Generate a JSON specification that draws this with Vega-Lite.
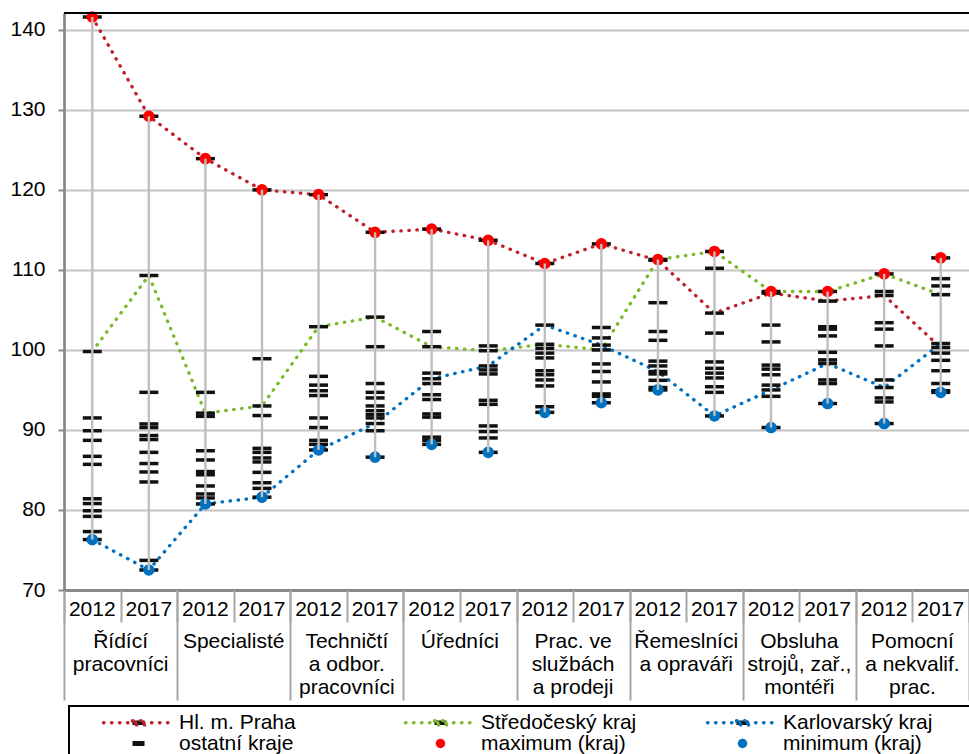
{
  "$schema": "https://vega.github.io/schema/vega-lite/v6.json",
  "width": 905,
  "height": 577,
  "autosize": "none",
  "padding": {"left": 64, "top": 13, "right": 0, "bottom": 164},
  "background": "white",
  "config": {
    "font": "Liberation Sans",
    "view": {"stroke": null},
    "axis": {"labelFont": "Liberation Sans", "labelColor": "#000", "title": null},
    "legend": {"labelFont": "Liberation Sans", "labelColor": "#000"}
  },
  "data": {"values": [
    {"p":1,"r":"Hl. m. Praha","v":141.6},{"p":1,"r":"Středočeský kraj","v":99.8},{"p":1,"r":"Karlovarský kraj","v":76.3},
    {"p":1,"r":"ostatní kraje","v":91.5},{"p":1,"r":"ostatní kraje","v":89.9},{"p":1,"r":"ostatní kraje","v":88.7},{"p":1,"r":"ostatní kraje","v":86.7},{"p":1,"r":"ostatní kraje","v":85.7},{"p":1,"r":"ostatní kraje","v":81.4},{"p":1,"r":"ostatní kraje","v":80.8},{"p":1,"r":"ostatní kraje","v":79.9},{"p":1,"r":"ostatní kraje","v":79.2},{"p":1,"r":"ostatní kraje","v":77.3},
    {"p":2,"r":"Hl. m. Praha","v":129.2},{"p":2,"r":"Středočeský kraj","v":109.3},{"p":2,"r":"Karlovarský kraj","v":72.5},
    {"p":2,"r":"ostatní kraje","v":94.7},{"p":2,"r":"ostatní kraje","v":90.75},{"p":2,"r":"ostatní kraje","v":90.3},{"p":2,"r":"ostatní kraje","v":89.3},{"p":2,"r":"ostatní kraje","v":88.8},{"p":2,"r":"ostatní kraje","v":87.2},{"p":2,"r":"ostatní kraje","v":85.8},{"p":2,"r":"ostatní kraje","v":84.75},{"p":2,"r":"ostatní kraje","v":83.5},{"p":2,"r":"ostatní kraje","v":73.7},
    {"p":3,"r":"Hl. m. Praha","v":123.9},{"p":3,"r":"Středočeský kraj","v":92.1},{"p":3,"r":"Karlovarský kraj","v":80.75},
    {"p":3,"r":"ostatní kraje","v":94.7},{"p":3,"r":"ostatní kraje","v":91.7},{"p":3,"r":"ostatní kraje","v":87.4},{"p":3,"r":"ostatní kraje","v":86.25},{"p":3,"r":"ostatní kraje","v":84.8},{"p":3,"r":"ostatní kraje","v":84.4},{"p":3,"r":"ostatní kraje","v":83.0},{"p":3,"r":"ostatní kraje","v":82.0},{"p":3,"r":"ostatní kraje","v":81.5},
    {"p":4,"r":"Hl. m. Praha","v":120.0},{"p":4,"r":"Středočeský kraj","v":93.0},{"p":4,"r":"Karlovarský kraj","v":81.6},
    {"p":4,"r":"ostatní kraje","v":98.9},{"p":4,"r":"ostatní kraje","v":91.8},{"p":4,"r":"ostatní kraje","v":87.7},{"p":4,"r":"ostatní kraje","v":87.2},{"p":4,"r":"ostatní kraje","v":86.5},{"p":4,"r":"ostatní kraje","v":86.0},{"p":4,"r":"ostatní kraje","v":84.7},{"p":4,"r":"ostatní kraje","v":83.4},{"p":4,"r":"ostatní kraje","v":82.7},
    {"p":5,"r":"Hl. m. Praha","v":119.4},{"p":5,"r":"Středočeský kraj","v":102.9},{"p":5,"r":"Karlovarský kraj","v":87.5},
    {"p":5,"r":"ostatní kraje","v":96.7},{"p":5,"r":"ostatní kraje","v":95.6},{"p":5,"r":"ostatní kraje","v":94.9},{"p":5,"r":"ostatní kraje","v":94.3},{"p":5,"r":"ostatní kraje","v":91.5},{"p":5,"r":"ostatní kraje","v":90.3},{"p":5,"r":"ostatní kraje","v":88.7},{"p":5,"r":"ostatní kraje","v":88.2},
    {"p":6,"r":"Hl. m. Praha","v":114.7},{"p":6,"r":"Středočeský kraj","v":104.1},{"p":6,"r":"Karlovarský kraj","v":90.8},
    {"p":6,"r":"ostatní kraje","v":100.4},{"p":6,"r":"ostatní kraje","v":95.8},{"p":6,"r":"ostatní kraje","v":94.7},{"p":6,"r":"ostatní kraje","v":94.0},{"p":6,"r":"ostatní kraje","v":93.0},{"p":6,"r":"ostatní kraje","v":92.4},{"p":6,"r":"ostatní kraje","v":91.9},{"p":6,"r":"ostatní kraje","v":91.5},{"p":6,"r":"ostatní kraje","v":89.9},{"p":6,"r":"ostatní kraje","v":86.6},
    {"p":7,"r":"Hl. m. Praha","v":115.1},{"p":7,"r":"Středočeský kraj","v":100.4},{"p":7,"r":"Karlovarský kraj","v":96.4},
    {"p":7,"r":"ostatní kraje","v":102.3},{"p":7,"r":"ostatní kraje","v":97.1},{"p":7,"r":"ostatní kraje","v":95.8},{"p":7,"r":"ostatní kraje","v":94.4},{"p":7,"r":"ostatní kraje","v":93.8},{"p":7,"r":"ostatní kraje","v":92.0},{"p":7,"r":"ostatní kraje","v":91.6},{"p":7,"r":"ostatní kraje","v":89.1},{"p":7,"r":"ostatní kraje","v":88.7},{"p":7,"r":"ostatní kraje","v":88.2},
    {"p":8,"r":"Hl. m. Praha","v":113.7},{"p":8,"r":"Středočeský kraj","v":99.9},{"p":8,"r":"Karlovarský kraj","v":98.0},
    {"p":8,"r":"ostatní kraje","v":100.5},{"p":8,"r":"ostatní kraje","v":97.5},{"p":8,"r":"ostatní kraje","v":97.0},{"p":8,"r":"ostatní kraje","v":93.7},{"p":8,"r":"ostatní kraje","v":93.2},{"p":8,"r":"ostatní kraje","v":90.5},{"p":8,"r":"ostatní kraje","v":89.8},{"p":8,"r":"ostatní kraje","v":89.0},{"p":8,"r":"ostatní kraje","v":87.2},
    {"p":9,"r":"Hl. m. Praha","v":110.8},{"p":9,"r":"Středočeský kraj","v":100.7},{"p":9,"r":"Karlovarský kraj","v":103.1},
    {"p":9,"r":"ostatní kraje","v":100.2},{"p":9,"r":"ostatní kraje","v":99.6},{"p":9,"r":"ostatní kraje","v":99.0},{"p":9,"r":"ostatní kraje","v":97.4},{"p":9,"r":"ostatní kraje","v":96.9},{"p":9,"r":"ostatní kraje","v":96.25},{"p":9,"r":"ostatní kraje","v":95.5},{"p":9,"r":"ostatní kraje","v":92.9},{"p":9,"r":"ostatní kraje","v":92.2},
    {"p":10,"r":"Hl. m. Praha","v":113.25},{"p":10,"r":"Středočeský kraj","v":100.0},{"p":10,"r":"Karlovarský kraj","v":100.6},
    {"p":10,"r":"ostatní kraje","v":102.8},{"p":10,"r":"ostatní kraje","v":101.5},{"p":10,"r":"ostatní kraje","v":98.25},{"p":10,"r":"ostatní kraje","v":97.3},{"p":10,"r":"ostatní kraje","v":96.0},{"p":10,"r":"ostatní kraje","v":94.5},{"p":10,"r":"ostatní kraje","v":94.2},{"p":10,"r":"ostatní kraje","v":93.4},
    {"p":11,"r":"Hl. m. Praha","v":111.2},{"p":11,"r":"Středočeský kraj","v":111.3},{"p":11,"r":"Karlovarský kraj","v":97.3},
    {"p":11,"r":"ostatní kraje","v":105.9},{"p":11,"r":"ostatní kraje","v":102.3},{"p":11,"r":"ostatní kraje","v":101.2},{"p":11,"r":"ostatní kraje","v":98.6},{"p":11,"r":"ostatní kraje","v":98.0},{"p":11,"r":"ostatní kraje","v":97.0},{"p":11,"r":"ostatní kraje","v":96.2},{"p":11,"r":"ostatní kraje","v":95.3},{"p":11,"r":"ostatní kraje","v":95.0},
    {"p":12,"r":"Hl. m. Praha","v":104.6},{"p":12,"r":"Středočeský kraj","v":112.3},{"p":12,"r":"Karlovarský kraj","v":91.75},
    {"p":12,"r":"ostatní kraje","v":110.2},{"p":12,"r":"ostatní kraje","v":102.1},{"p":12,"r":"ostatní kraje","v":98.5},{"p":12,"r":"ostatní kraje","v":97.7},{"p":12,"r":"ostatní kraje","v":97.1},{"p":12,"r":"ostatní kraje","v":96.5},{"p":12,"r":"ostatní kraje","v":95.4},{"p":12,"r":"ostatní kraje","v":94.7},
    {"p":13,"r":"Hl. m. Praha","v":107.1},{"p":13,"r":"Středočeský kraj","v":107.3},{"p":13,"r":"Karlovarský kraj","v":95.0},
    {"p":13,"r":"ostatní kraje","v":103.1},{"p":13,"r":"ostatní kraje","v":101.0},{"p":13,"r":"ostatní kraje","v":98.1},{"p":13,"r":"ostatní kraje","v":97.6},{"p":13,"r":"ostatní kraje","v":96.9},{"p":13,"r":"ostatní kraje","v":95.6},{"p":13,"r":"ostatní kraje","v":94.2},{"p":13,"r":"ostatní kraje","v":90.3},
    {"p":14,"r":"Hl. m. Praha","v":106.1},{"p":14,"r":"Středočeský kraj","v":107.3},{"p":14,"r":"Karlovarský kraj","v":98.3},
    {"p":14,"r":"ostatní kraje","v":102.9},{"p":14,"r":"ostatní kraje","v":102.6},{"p":14,"r":"ostatní kraje","v":101.75},{"p":14,"r":"ostatní kraje","v":99.7},{"p":14,"r":"ostatní kraje","v":98.75},{"p":14,"r":"ostatní kraje","v":96.25},{"p":14,"r":"ostatní kraje","v":95.8},{"p":14,"r":"ostatní kraje","v":93.3},
    {"p":15,"r":"Hl. m. Praha","v":106.8},{"p":15,"r":"Středočeský kraj","v":109.5},{"p":15,"r":"Karlovarský kraj","v":95.3},
    {"p":15,"r":"ostatní kraje","v":107.3},{"p":15,"r":"ostatní kraje","v":103.4},{"p":15,"r":"ostatní kraje","v":102.6},{"p":15,"r":"ostatní kraje","v":100.5},{"p":15,"r":"ostatní kraje","v":96.25},{"p":15,"r":"ostatní kraje","v":94.0},{"p":15,"r":"ostatní kraje","v":93.5},{"p":15,"r":"ostatní kraje","v":90.8},
    {"p":16,"r":"Hl. m. Praha","v":100.3},{"p":16,"r":"Středočeský kraj","v":106.9},{"p":16,"r":"Karlovarský kraj","v":100.8},
    {"p":16,"r":"ostatní kraje","v":111.5},{"p":16,"r":"ostatní kraje","v":108.9},{"p":16,"r":"ostatní kraje","v":108.0},{"p":16,"r":"ostatní kraje","v":99.6},{"p":16,"r":"ostatní kraje","v":98.7},{"p":16,"r":"ostatní kraje","v":97.4},{"p":16,"r":"ostatní kraje","v":95.8},{"p":16,"r":"ostatní kraje","v":94.9},{"p":16,"r":"ostatní kraje","v":94.7}
  ]},
  "layer": [
    {
      "layer": [
        {
          "transform": [{"filter": "datum.r != 'ostatní kraje'"}],
          "mark": {"type": "line", "strokeDash": [0.5, 7.5], "strokeWidth": 3.3, "strokeCap": "round"},
          "encoding": {
            "x": {"field": "p", "type": "ordinal",
                  "scale": {"type": "band", "domain": [1,2,3,4,5,6,7,8,9,10,11,12,13,14,15,16], "paddingInner": 0, "paddingOuter": 0},
                  "axis": {"orient": "bottom", "labelExpr": "datum.value % 2 == 1 ? '2012' : '2017'", "labelAngle": 0, "labelFontSize": 21,
                           "ticks": false, "domainColor": "#898989", "domainWidth": 3, "labelPadding": 8, "labelOverlap": false, "grid": false}},
            "y": {"field": "v", "type": "quantitative",
                  "scale": {"domain": [70, 142.1], "nice": false, "zero": false},
                  "axis": {"values": [70,80,90,100,110,120,130,140], "grid": true, "gridColor": "#C4C4C4", "gridWidth": 2,
                           "domainColor": "#868686", "domainWidth": 2.7, "tickColor": "#868686", "tickWidth": 2, "tickSize": 6,
                           "labelPadding": 13, "labelFontSize": 21}},
            "color": {"field": "r", "type": "nominal",
                      "scale": {"domain": ["Hl. m. Praha", "Středočeský kraj", "Karlovarský kraj", "ostatní kraje", "maximum (kraj)", "minimum (kraj)"],
                                "range": ["#C0202A", "#7AB929", "#0070C0", "#111111", "#FF0000", "#0070C0"]},
                      "legend": {"orient": "none", "legendX": 5, "legendY": 693, "direction": "horizontal", "columns": 3,
                                 "title": ".", "titleOrient": "right", "titlePadding": 70, "titleOpacity": 0, "titleFontSize": 10,
                                 "strokeColor": "#000", "padding": 6, "gridAlign": "all", "columnPadding": 42, "rowPadding": -1,
                                 "symbolSize": 400, "symbolOffset": 53, "labelOffset": 30, "labelFontSize": 21, "labelLimit": 400,
                                 "encode": {
                                   "legend": {"update": {"strokeWidth": {"value": 2}}},
                                   "symbols": {"update": {
                                     "shape": {"signal": "indexof(['Hl. m. Praha','Středočeský kraj','Karlovarský kraj'], datum.label) >= 0 ? 'M-3.5,0H3.5M-0.6,-0.22H0.6V0.22H-0.6Z' : (datum.label == 'ostatní kraje' ? 'M-0.6,-0.25H0.6V0.25H-0.6Z' : 'circle')"},
                                     "size": {"signal": "indexof(['maximum (kraj)','minimum (kraj)'], datum.label) >= 0 ? 90 : 400"},
                                     "fill": {"signal": "datum.label == 'maximum (kraj)' ? '#FF0000' : (datum.label == 'minimum (kraj)' ? '#0070C0' : '#111111')"},
                                     "stroke": {"signal": "indexof(['Hl. m. Praha','Středočeský kraj','Karlovarský kraj'], datum.label) >= 0 ? {gradient: 'linear', x1: 0, y1: 0, x2: 1, y2: 0, stops: [{offset: 0, color: scale('color', datum.value)}, {offset: 0.405, color: scale('color', datum.value)}, {offset: 0.405, color: 'rgba(255,255,255,0)'}, {offset: 0.595, color: 'rgba(255,255,255,0)'}, {offset: 0.595, color: scale('color', datum.value)}, {offset: 1, color: scale('color', datum.value)}]} : null"},
                                     "strokeDash": {"value": [0.5, 7.5]},
                                     "strokeWidth": {"signal": "indexof(['Hl. m. Praha','Středočeský kraj','Karlovarský kraj'], datum.label) >= 0 ? 3.3 : 0"},
                                     "strokeCap": {"value": "round"},
                                     "opacity": {"value": 1},
                                     "fillOpacity": {"value": 1},
                                     "strokeOpacity": {"value": 1}
                                   }}
                                 }}}
          }
        },
        {
          "mark": {"type": "tick", "color": "#111111", "size": 19, "thickness": 3.5, "opacity": 1},
          "encoding": {
            "x": {"field": "p", "type": "ordinal", "scale": {"type": "band"}},
            "y": {"field": "v", "type": "quantitative"}
          }
        },
        {
          "mark": {"type": "circle", "size": 135, "color": "#FF0000", "opacity": 1},
          "encoding": {
            "x": {"field": "p", "type": "ordinal", "scale": {"type": "band"}},
            "y": {"field": "v", "type": "quantitative", "aggregate": "max"}
          }
        },
        {
          "mark": {"type": "circle", "size": 135, "color": "#0070C0", "opacity": 1},
          "encoding": {
            "x": {"field": "p", "type": "ordinal", "scale": {"type": "band"}},
            "y": {"field": "v", "type": "quantitative", "aggregate": "min"}
          }
        },
        {
          "mark": {"type": "rule", "color": "#BFBFBF", "strokeWidth": 2.4},
          "encoding": {
            "x": {"field": "p", "type": "ordinal", "scale": {"type": "band"}},
            "y": {"field": "v", "type": "quantitative", "aggregate": "min"},
            "y2": {"field": "v", "aggregate": "max"}
          }
        },
        {
          "mark": {"type": "rule", "color": "#000000", "strokeWidth": 2},
          "encoding": {"y": {"datum": 142.1, "type": "quantitative"}}
        }
      ]
    },
    {
      "mark": {"type": "rule", "opacity": 0},
      "encoding": {
        "x": {"field": "p", "type": "ordinal",
              "scale": {"type": "band", "domain": [1,2,3,4,5,6,7,8,9,10,11,12,13,14,15,16], "paddingInner": 0, "paddingOuter": 0},
              "axis": {"orient": "bottom", "labels": false, "domain": false, "grid": false,
                       "tickBand": "extent", "tickSize": 32, "tickColor": "#A6A6A6", "tickWidth": 2}}
      }
    },
    {
      "data": {"values": [
        {"g": "Řídící|pracovníci"}, {"g": "Specialisté"}, {"g": "Techničtí|a odbor.|pracovníci"}, {"g": "Úředníci"},
        {"g": "Prac. ve|službách|a prodeji"}, {"g": "Řemeslníci|a opraváři"}, {"g": "Obsluha|strojů, zař.,|montéři"}, {"g": "Pomocní|a nekvalif.|prac."}
      ]},
      "mark": {"type": "rule", "opacity": 0},
      "encoding": {
        "x": {"field": "g", "type": "nominal", "sort": null,
              "scale": {"type": "band", "paddingInner": 0, "paddingOuter": 0},
              "axis": {"orient": "bottom", "labels": false, "domain": false, "grid": false,
                       "tickBand": "extent", "tickSize": 110, "tickColor": "#A6A6A6", "tickWidth": 2}}
      }
    },
    {
      "data": {"values": [
        {"g": "Řídící|pracovníci"}, {"g": "Specialisté"}, {"g": "Techničtí|a odbor.|pracovníci"}, {"g": "Úředníci"},
        {"g": "Prac. ve|službách|a prodeji"}, {"g": "Řemeslníci|a opraváři"}, {"g": "Obsluha|strojů, zař.,|montéři"}, {"g": "Pomocní|a nekvalif.|prac."}
      ]},
      "mark": {"type": "rule", "opacity": 0},
      "encoding": {
        "x": {"field": "g", "type": "nominal", "sort": null,
              "scale": {"type": "band", "paddingInner": 0, "paddingOuter": 0},
              "axis": {"orient": "bottom", "labelExpr": "split(datum.label, '|')", "labelAngle": 0, "labelFontSize": 21, "labelLineHeight": 23.3,
                       "ticks": false, "domain": false, "labelPadding": 40, "labelOverlap": false, "labelLimit": 200, "grid": false}}
      }
    }
  ],
  "resolve": {"scale": {"x": "independent"}}
}
